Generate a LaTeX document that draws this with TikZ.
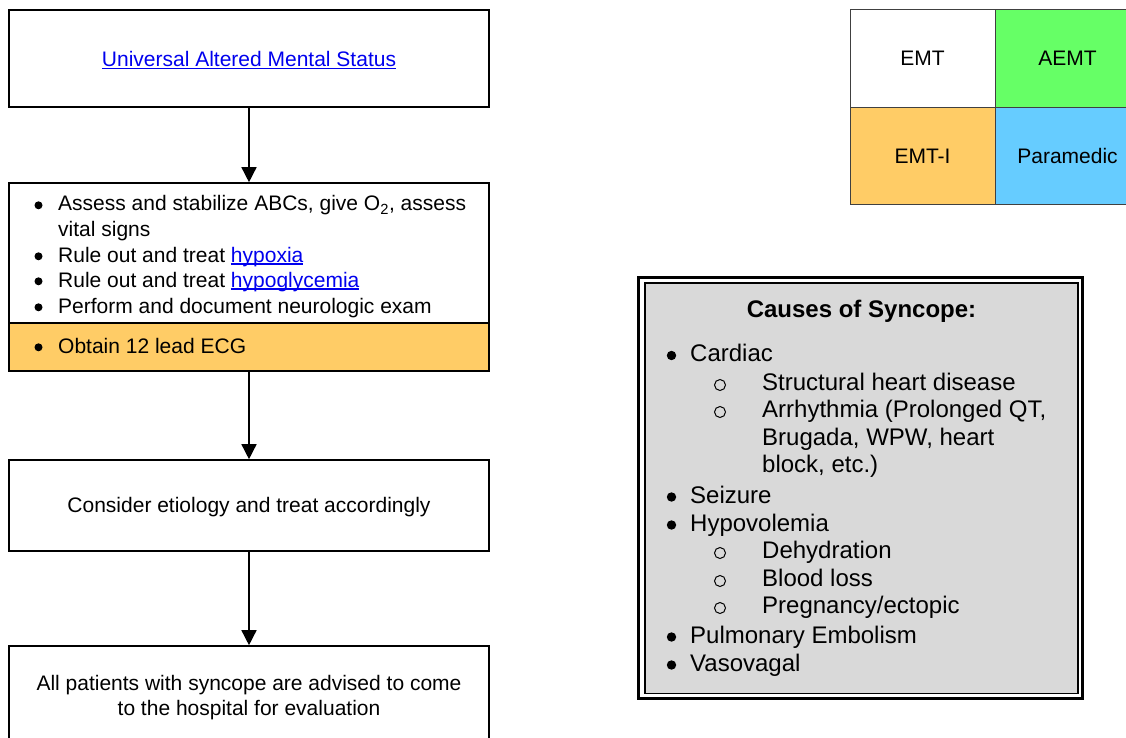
\documentclass[tikz,border=0pt]{standalone}
\usepackage{fontspec}
\setmainfont{Liberation Sans}
\usetikzlibrary{arrows.meta}

\definecolor{linkblue}{HTML}{0000EE}
\definecolor{emtiorange}{HTML}{FFCC66}
\definecolor{aemtgreen}{HTML}{66FF66}
\definecolor{medicblue}{HTML}{66CCFF}
\definecolor{causegray}{HTML}{D9D9D9}
\definecolor{legendline}{HTML}{404040}

% hyperlink-style text: blue with an underline just under the baseline
\newcommand\lnk[1]{\textcolor{linkblue}{\setbox0\hbox{#1}\rlap{\rule[-2.6pt]{\wd0}{1.2pt}}\box0}}
% sets box text a little lower without changing the box's size
\newcommand\boxtextdown[1]{\raisebox{-2pt}[\height][\depth]{#1}}

\tikzset{
  flowbox/.style={draw=black, line width=1.6pt, minimum width=480pt, inner sep=0pt,
                  font=\fontsize{21}{25}\selectfont, align=center},
  flowarrow/.style={line width=1.5pt, -{Triangle[length=15pt,width=15pt]}},
  legendcell/.style={draw=legendline, line width=1pt, minimum width=145pt, minimum height=97.5pt,
                     inner sep=0pt, font=\fontsize{21}{25}\selectfont},
  flowline/.style={anchor=base west, inner sep=0pt, font=\fontsize{21}{25}\selectfont},
  causeline/.style={anchor=base west, inner sep=0pt, font=\fontsize{24}{28}\selectfont},
  % list markers drawn as circles, placed by their centres
  flowdot/.style={circle, fill=black, inner sep=0pt, minimum size=8pt},
  causedot/.style={circle, fill=black, inner sep=0pt, minimum size=9.4pt},
  causesub/.style={circle, draw=black, line width=1pt, inner sep=0pt, minimum size=11pt},
}

\begin{document}
\begin{tikzpicture}[x=1pt, y=-1pt]
\clip (0,0) rectangle (1126,738);
\fill[white] (0,0) rectangle (1126,738);

% ---- flowchart ----
\node[flowbox, minimum height=97pt] (start) at (249,58.5) {\boxtextdown{\lnk{Universal Altered Mental Status}}};

\node[flowbox, minimum height=188pt] (assess) at (249,277) {};
\node[draw=black, line width=1.6pt, fill=emtiorange, minimum width=480pt, minimum height=48pt, inner sep=0pt]
  (ecg) at (249,347) {};

\node[flowdot] (b1) at (38.5,205.3) {};
\node[flowline] (t1) at (58,211) {Assess and stabilize ABCs, give O\textsubscript{2}, assess};
\node[flowline] (t1b) at (58,236) {vital signs};
\node[flowdot] (b2) at (38.5,256.3) {};
\node[flowline] (t2) at (58,262) {Rule out and treat \lnk{hypoxia}};
\node[flowdot] (b3) at (38.5,281.3) {};
\node[flowline] (t3) at (58,287) {Rule out and treat \lnk{hypoglycemia}};
\node[flowdot] (b4) at (38.5,307.3) {};
\node[flowline] (t4) at (58,313) {Perform and document neurologic exam};
\node[flowdot] (b5) at (38.5,347.3) {};
\node[flowline] (t5) at (58,353) {Obtain 12 lead ECG};

\node[flowbox, minimum height=91pt] (etiology) at (249,505.5) {\boxtextdown{Consider etiology and treat accordingly}};
\node[flowbox, minimum height=100pt] (hospital) at (249,696)
  {\boxtextdown{\begin{tabular}{@{}c@{}}All patients with syncope are advised to come\\to the hospital for evaluation\end{tabular}}};

\draw[flowarrow] (start.south) -- (assess.north);
\draw[flowarrow] (ecg.south) -- (etiology.north);
\draw[flowarrow] (etiology.south) -- (hospital.north);

% ---- provider level legend ----
\node[legendcell, fill=white] (emt) at (922.5,58.5) {EMT};
\node[legendcell, fill=aemtgreen] (aemt) at (1067.5,58.5) {AEMT};
\node[legendcell, fill=emtiorange] (emti) at (922.5,156) {EMT-I};
\node[legendcell, fill=medicblue] (medic) at (1067.5,156) {Paramedic};

% ---- causes of syncope ----
\draw[black, line width=3pt] (638.5,277.5) rectangle (1082.5,698.5);
\node[draw=black, line width=1.5pt, fill=causegray, minimum width=433pt, minimum height=410.5pt, inner sep=0pt]
  (causes) at (861.5,488.25) {};

\node[anchor=base, inner sep=0pt, font=\fontsize{24}{28}\selectfont\bfseries] (ctitle) at (861.5,317) {Causes of Syncope:};

\node[causedot] (c1d) at (671.5,355.5) {};
\node[causeline] (c1) at (690,361.5) {Cardiac};
\node[causesub] (c1ad) at (720,385) {};
\node[causeline] (c1a) at (762,390) {Structural heart disease};
\node[causesub] (c1bd) at (720,412) {};
\node[causeline] (c1b) at (762,417) {Arrhythmia (Prolonged QT,};
\node[causeline] (c1b2) at (762,445) {Brugada, WPW, heart};
\node[causeline] (c1b3) at (762,472) {block, etc.)};
\node[causedot] (c2d) at (671.5,497) {};
\node[causeline] (c2) at (690,503) {Seizure};
\node[causedot] (c3d) at (671.5,525) {};
\node[causeline] (c3) at (690,531) {Hypovolemia};
\node[causesub] (c3ad) at (720,553) {};
\node[causeline] (c3a) at (762,558) {Dehydration};
\node[causesub] (c3bd) at (720,581) {};
\node[causeline] (c3b) at (762,586) {Blood loss};
\node[causesub] (c3cd) at (720,608) {};
\node[causeline] (c3c) at (762,613) {Pregnancy/ectopic};
\node[causedot] (c4d) at (671.5,637) {};
\node[causeline] (c4) at (690,643) {Pulmonary Embolism};
\node[causedot] (c5d) at (671.5,665) {};
\node[causeline] (c5) at (690,671) {Vasovagal};
\end{tikzpicture}
\end{document}
